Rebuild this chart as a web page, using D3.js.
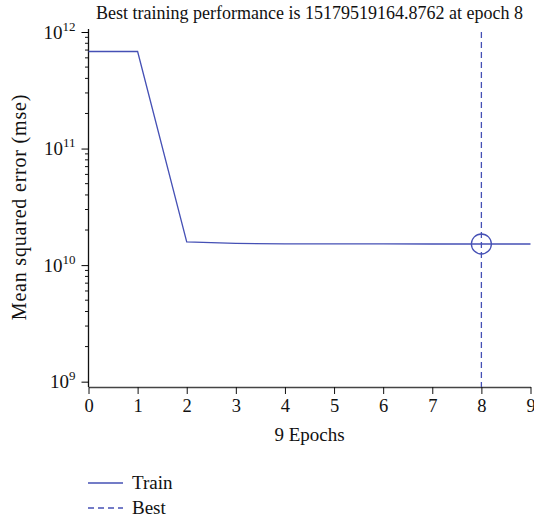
<!DOCTYPE html>
<html>
<head>
<meta charset="utf-8">
<script src="https://cdn.jsdelivr.net/npm/d3@7"></script>
<style>
  body { margin: 0; background: #fff; }
  svg text { font-family: "Liberation Serif", "Times New Roman", "DejaVu Serif", serif !important; fill: #111; }
</style>
</head>
<body>
<div id="chart"></div>
<script>
// data
var epochs = [0, 1, 2, 3, 4, 5, 6, 7, 8, 9];
var trainMse = [6.8e11, 6.8e11, 1.58e10, 1.535e10, 1.522e10, 1.52e10, 1.519e10, 1.518e10, 15179519164.8762, 1.5178e10];
var bestEpoch = 8;
var bestMse = 15179519164.8762;
var xTicks = [0, 1, 2, 3, 4, 5, 6, 7, 8, 9];
var yDecades = [9, 10, 11, 12];
var legendNames = ["Train", "Best"];

var width = 534, height = 521;
var color = "#4550b5";
var serif = "'Liberation Serif', 'Times New Roman', serif";

var svg = d3.select("#chart").append("svg")
    .attr("width", width)
    .attr("height", height)
    .style("font-family", serif);

var x = d3.scaleLinear().domain([0, 9]).range([88.5, 530.5]);
var y = d3.scaleLog().domain([9e8, 1e12]).range([387, 32]);

// x axis
var gx = svg.append("g")
    .attr("transform", "translate(0," + y.range()[0] + ")")
    .call(d3.axisBottom(x).tickValues(xTicks).tickSize(7).tickSizeOuter(0).tickPadding(5));
gx.attr("font-family", null);
gx.select(".domain").attr("stroke", "#444").attr("stroke-width", 1.5);
gx.selectAll(".tick line").attr("stroke", "#111");
gx.selectAll(".tick text").style("font-size", "18.5px").style("font-family", serif).attr("fill", "#111");

// y axis: major ticks with 10^n labels
var majors = yDecades.map(function (d) { return Math.pow(10, d); });
var minors = [];
yDecades.forEach(function (d) {
    for (var k = 2; k <= 9; k++) {
        var v = k * Math.pow(10, d - 1);
        if (v > y.domain()[0] && v < y.domain()[1]) minors.push(v);
    }
});

var gy = svg.append("g")
    .attr("transform", "translate(" + x.range()[0] + ",0)")
    .call(d3.axisLeft(y).tickValues(majors).tickSize(7).tickSizeOuter(0).tickFormat(""));
gy.attr("font-family", null);
gy.select(".domain").attr("stroke", "#111").attr("stroke-width", 1.3)
    .attr("d", "M0," + (y.range()[1] - 3) + "V" + y.range()[0]);

gy.selectAll(".tick").each(function (d) {
    var t = d3.select(this).append("text")
        .attr("x", -13)
        .attr("y", 6)
        .attr("text-anchor", "end")
        .style("font-size", "19px")
        .style("font-family", serif)
        .attr("fill", "#111");
    t.append("tspan").text("10");
    t.append("tspan").attr("dy", -8).style("font-size", "13px").text(Math.round(Math.log10(d)));
});

svg.append("g").selectAll("line")
    .data(minors)
    .enter().append("line")
    .attr("x1", x.range()[0] - 3.5)
    .attr("x2", x.range()[0])
    .attr("y1", function (d) { return y(d); })
    .attr("y2", function (d) { return y(d); })
    .attr("stroke", "#111");

// train line
var line = d3.line()
    .x(function (d, i) { return x(epochs[i]); })
    .y(function (d) { return y(d); });

svg.append("path")
    .datum(trainMse)
    .attr("d", line)
    .attr("fill", "none")
    .attr("stroke", color)
    .attr("stroke-width", 1.3);

// best marker
svg.append("line")
    .attr("x1", x(bestEpoch)).attr("x2", x(bestEpoch))
    .attr("y1", y.range()[1]).attr("y2", y.range()[0])
    .attr("stroke", color)
    .attr("stroke-width", 1.3)
    .attr("stroke-dasharray", "6,4");

svg.append("circle")
    .attr("cx", x(bestEpoch))
    .attr("cy", y(bestMse))
    .attr("r", 10)
    .attr("fill", "none")
    .attr("stroke", color)
    .attr("stroke-width", 1.3);

// title and labels
svg.append("text")
    .attr("x", (x.range()[0] + x.range()[1]) / 2)
    .attr("y", 19)
    .attr("text-anchor", "middle")
    .style("font-size", "18px")
    .text("Best training performance is " + bestMse.toFixed(4) + " at epoch " + bestEpoch);

svg.append("text")
    .attr("x", (x.range()[0] + x.range()[1]) / 2)
    .attr("y", 441)
    .attr("text-anchor", "middle")
    .style("font-size", "19px")
    .text(epochs.length - 1 + " Epochs");

svg.append("text")
    .attr("transform", "translate(26,207) rotate(-90)")
    .attr("text-anchor", "middle")
    .style("font-size", "20px")
    .style("letter-spacing", "0.8px")
    .text("Mean squared error (mse)");

// legend
var legend = svg.append("g").selectAll("g")
    .data(legendNames)
    .enter().append("g")
    .attr("transform", function (d, i) { return "translate(88," + (483 + i * 25) + ")"; });

legend.append("line")
    .attr("x1", 0).attr("x2", 35)
    .attr("stroke", color)
    .attr("stroke-width", 1.3)
    .attr("stroke-dasharray", function (d, i) { return i ? "6,4" : null; });

legend.append("text")
    .attr("x", 44)
    .attr("y", 6)
    .style("font-size", "19px")
    .text(function (d) { return d; });
</script>
</body>
</html>
